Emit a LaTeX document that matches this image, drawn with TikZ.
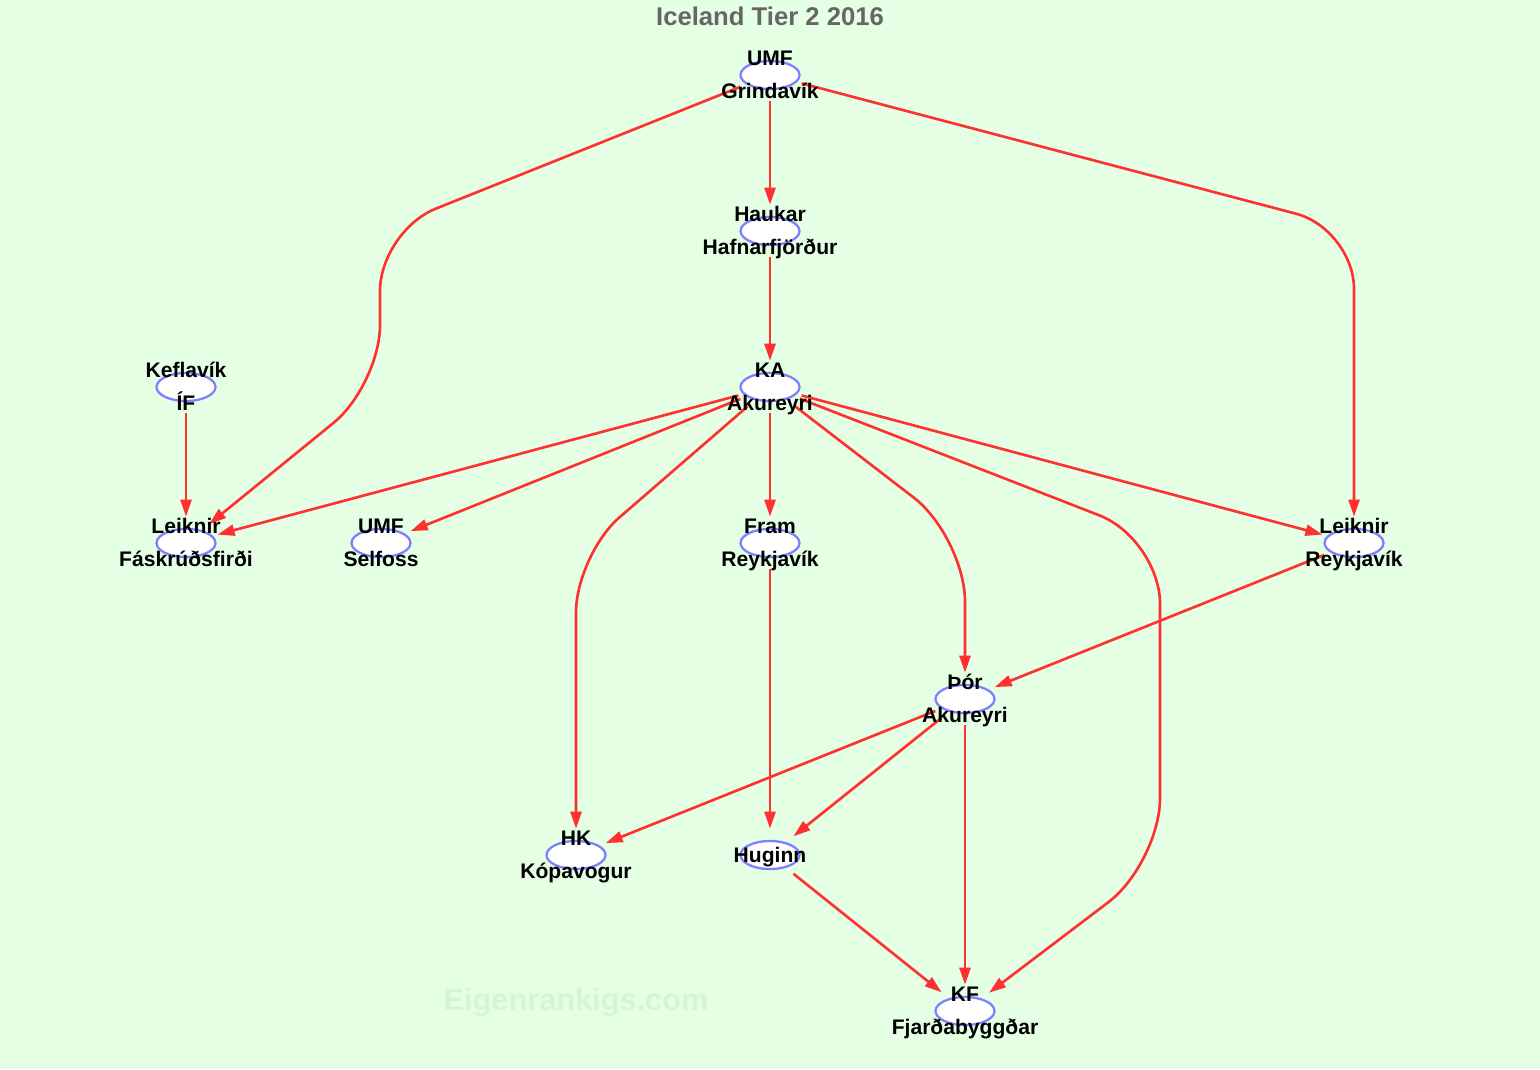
\documentclass[tikz,border=0pt]{standalone}
\usepackage{fontspec}
\setsansfont{Liberation Sans}
\usetikzlibrary{shapes.geometric}
\usetikzlibrary{arrows.meta}

\definecolor{bgcol}{HTML}{E5FFE5}
\definecolor{edgecol}{HTML}{FF3030}
\definecolor{ringcol}{HTML}{8080FF}
\definecolor{headcol}{HTML}{666666}
\definecolor{wmcol}{HTML}{D6F5D6}

\pgfdeclarelayer{back}
\pgfsetlayers{back,main}

\tikzset{
	team/.style = {ellipse, minimum width=1.32cm, minimum height=1.04cm, inner sep=0pt,
		path picture={\draw[ringcol, fill=white, line width=1.3pt] (path picture bounding box.center) ellipse (0.59cm and 0.28cm);}},
	teamtext/.style = {inner sep=0pt, text height=0.3cm, text depth=0.08cm,
		font=\sffamily\bfseries\fontsize{12}{14}\selectfont},
	topline/.style = {teamtext, yshift=0.31cm},
	botline/.style = {teamtext, yshift=-0.36cm},
	midline/.style = {teamtext, yshift=-0.03cm},
	headtext/.style = {text=headcol, font=\sffamily\bfseries\fontsize{14.6}{17}\selectfont},
	wmark/.style = {text=wmcol, font=\sffamily\bfseries\fontsize{17.5}{20}\selectfont},
	edge/.style = {draw=edgecol, line width=1.5pt, -{Triangle[length=0.34cm, width=0.22cm]}},
}

\begin{document}
\begin{tikzpicture}[x=0.02cm, y=-0.02cm]
	\useasboundingbox (0, 0) rectangle (1540, 1069);

	\node[headtext] (head) at (770, 16) {Iceland Tier 2 2016};

	\node[team, label={[topline]center:UMF}, label={[botline]center:Grindavík}] (grin) at (770, 75) {};
	\node[team, label={[topline]center:Haukar}, label={[botline]center:Hafnarfjörður}] (hauk) at (770, 231) {};
	\node[team, label={[topline]center:KA}, label={[botline]center:Akureyri}] (ka) at (770, 387) {};
	\node[team, label={[topline]center:Keflavík}, label={[botline]center:ÍF}] (kefl) at (186, 387) {};
	\node[team, label={[topline]center:Leiknir}, label={[botline]center:Fáskrúðsfirði}] (leikf) at (186, 543) {};
	\node[team, label={[topline]center:UMF}, label={[botline]center:Selfoss}] (self) at (381, 543) {};
	\node[team, label={[topline]center:Fram}, label={[botline]center:Reykjavík}] (fram) at (770, 543) {};
	\node[team, label={[topline]center:Leiknir}, label={[botline]center:Reykjavík}] (leikr) at (1354, 543) {};
	\node[team, label={[topline]center:Þór}, label={[botline]center:Akureyri}] (thor) at (965, 699) {};
	\node[team, label={[topline]center:HK}, label={[botline]center:Kópavogur}] (hk) at (576, 855) {};
	\node[team, label={[midline]center:Huginn}] (hug) at (770, 855) {};
	\node[team, label={[topline]center:KF}, label={[botline]center:Fjarðabyggðar}] (kf) at (965, 1011) {};

	\begin{pgfonlayer}{back}
		\fill[bgcol] (0, 0) rectangle (1540, 1069);
		\node[wmark] (wm) at (576, 1003) {Eigenrankigs.com};

		\draw[edge] (grin) -- (hauk);
		\draw[edge] (hauk) -- (ka);
		\draw[edge, rounded corners=1.2cm] (grin) -- (380, 231) -- (380, 385) -- (leikf);
		\draw[edge, rounded corners=1.2cm] (grin) -- (1354, 229) -- (leikr);
		\draw[edge] (kefl) -- (leikf);
		\draw[edge] (ka) -- (leikf);
		\draw[edge] (ka) -- (self);
		\draw[edge] (ka) -- (fram);
		\draw[edge] (ka) -- (leikr);
		\draw[edge, rounded corners=1.15cm] (ka) -- (576, 555) -- (hk);
		\draw[edge, rounded corners=1.3cm] (ka) -- (965, 537) -- (thor);
		\draw[edge, rounded corners=1.3cm] (ka) -- (1160, 539) -- (1160, 863) -- (kf);
		\draw[edge] (fram) -- (hug);
		\draw[edge] (leikr) -- (thor);
		\draw[edge] (thor) -- (hk);
		\draw[edge] (thor) -- (hug);
		\draw[edge] (thor) -- (kf);
		\draw[edge] (hug) -- (kf);
	\end{pgfonlayer}
\end{tikzpicture}
\end{document}
